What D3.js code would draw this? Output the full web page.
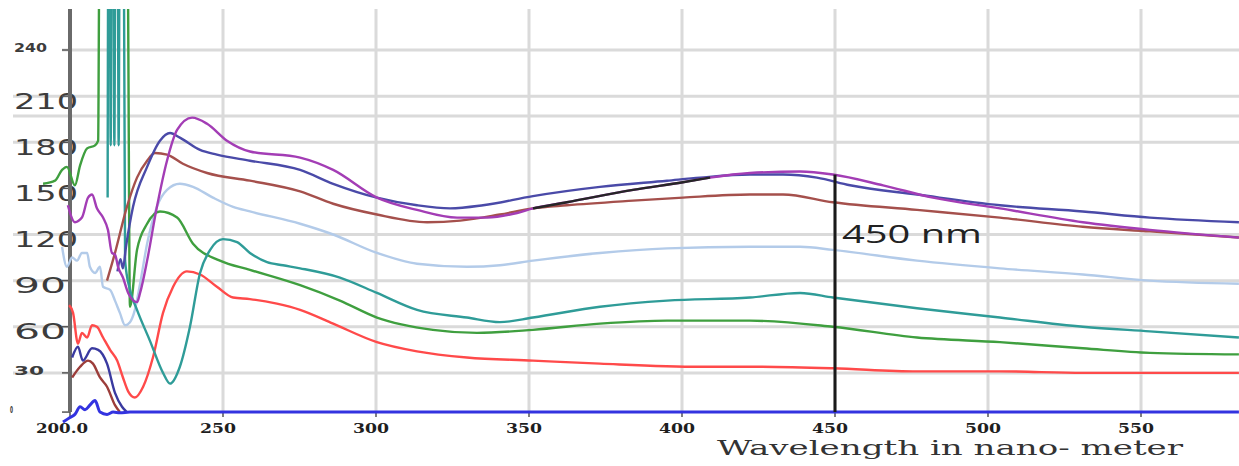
<!DOCTYPE html>
<html>
<head>
<meta charset="utf-8">
<script src="https://cdn.jsdelivr.net/npm/d3@7"></script>
<style>
body { margin: 0; background: #fff; }
</style>
</head>
<body>
<div id="chart"></div>
<script>
// axis ticks and labels
const xTicks = [200, 250, 300, 350, 400, 450, 500, 550];
const xTickLabels = ["200.0", "250", "300", "350", "400", "450", "500", "550"];
const yTicks = [30, 60, 90, 120, 150, 180, 210, 240];
const yTickLabels = ["30", "60", "90", "120", "150", "180", "210", "240"];
const yGrid = [30, 60, 90, 120, 180, 197, 210, 240];
const baseValue = 4.5;

// spectra: [wavelength nm, value]
const lightBlue = [[197.4,112],[199.0,99],[200.7,105],[202.3,103],[203.9,108],[205.6,108],[206.5,99],[208.2,95],[209.8,99],[210.8,86],[213.1,84],[214.7,77],[216.3,69],[218.0,61],[219.6,63],[221.2,71],[222.9,88],[225.2,114],[228.4,138],[231.7,149],[235.9,153],[240.2,151],[246.7,144],[253.3,138],[258.8,135],[275.2,127],[286.0,120],[300.3,108],[313.4,101],[329.7,99],[340.5,100],[351.3,103],[373.2,108],[395.1,111],[422.2,112],[438.6,112],[449.3,110],[476.8,103],[503.9,98],[531.0,94],[552.9,90],[582.0,88]];
const red = [[199.7,74],[201.0,69],[202.6,49],[203.9,56],[205.6,53],[207.2,61],[208.8,60],[210.8,53],[213.1,45],[215.4,38],[217.3,27],[219.0,18],[221.2,14],[223.9,21],[227.1,40],[230.4,69],[233.7,86],[238.2,96],[242.5,94],[248.0,86],[253.3,79],[258.8,78],[267.6,75],[275.2,71],[286.0,62],[300.3,50],[313.4,44],[329.7,40],[351.3,38],[373.2,36],[405.9,34],[422.2,34],[449.3,33],[476.8,31],[503.9,31],[531.0,30],[582.0,30]];
const green = [[191.2,153],[195.1,155],[197.4,162],[199.0,164],[201.6,152],[203.3,165],[205.6,176],[208.2,178],[209.2,181],[209.6,300],[218.8,300],[219.6,73],[221.9,110],[225.2,127],[229.4,135],[235.0,131],[240.2,114],[249.0,103],[258.8,97],[275.2,87],[288.2,77],[300.3,66],[318.6,58],[333.0,56],[351.3,58],[373.2,62],[395.1,64],[422.2,64],[449.3,60],[476.8,53],[503.9,50],[531.0,46],[552.9,43],[582.0,42]];
const teal = [[212.3,144],[212.5,300],[213.0,300],[213.3,178],[213.6,300],[214.2,300],[214.5,178],[214.8,300],[215.6,300],[215.9,178],[216.2,300],[217.6,300],[218.0,103],[219.6,84],[221.9,71],[226.1,51],[230.4,30],[232.7,23],[235.9,34],[239.2,60],[242.5,95],[245.8,110],[250.0,117],[254.6,115],[258.8,108],[264.4,102],[269.6,100],[275.2,98],[288.2,92],[300.3,82],[313.4,71],[329.7,66],[340.5,63],[351.3,66],[373.2,73],[395.1,77],[422.2,79],[438.6,82],[449.3,79],[476.8,72],[503.9,66],[531.0,60],[552.9,57],[582.0,53]];
const brown = [[212.1,90],[214.7,108],[218.6,138],[221.9,157],[225.2,168],[227.8,173],[231.7,172],[236.9,166],[244.8,160],[258.8,155],[275.2,148],[286.0,140],[300.3,133],[316.7,128],[327.5,129],[340.5,133],[351.3,137],[362.4,139],[384.0,142],[400.3,144],[422.2,146],[433.0,146],[449.3,141],[476.8,136],[503.9,131],[531.0,125],[552.9,122],[582.0,118]];
const brownLow = [[200.7,27],[203.3,34],[205.9,38],[207.5,36],[209.8,27],[212.1,21],[214.7,9],[216.3,4.5]];
const navy = [[215.5,96],[216.5,104],[217.3,98],[218.3,112],[220.6,138],[225.2,164],[229.4,181],[232.7,186],[235.9,183],[242.5,175],[248.0,172],[258.8,168],[275.2,162],[286.0,153],[300.3,144],[313.4,139],[324.2,137],[335.0,139],[351.3,145],[373.2,151],[395.1,155],[405.9,157],[422.2,159],[433.0,159],[444.1,157],[454.9,152],[476.8,146],[503.9,139],[531.0,135],[552.9,131],[582.0,128]];
const navyLow = [[200.7,40],[202.6,47],[204.2,38],[207.2,46],[209.2,45],[212.1,36],[214.7,17],[217.0,8],[218.6,4.5]];
const purple = [[199.3,139],[201.6,128],[203.9,131],[205.9,144],[207.2,146],[208.8,137],[210.8,131],[212.4,123],[213.7,108],[214.7,107],[215.7,99],[217.3,92],[219.0,82],[221.9,76],[222.9,82],[225.2,103],[228.4,138],[231.7,168],[235.0,188],[239.9,196],[244.8,192],[251.3,181],[258.8,174],[275.2,170],[286.0,162],[300.3,144],[313.4,136],[326.5,131],[336.3,131],[346.1,134],[351.3,137],[362.4,141],[384.0,149],[400.3,154],[409.2,157],[422.2,160],[438.6,161],[449.3,159],[465.7,152],[482.0,144],[503.9,137],[531.0,128],[552.9,123],[582.0,118]];
const black = [[351.3,137],[362.4,141],[384.0,149],[400.3,154],[409.2,157]];
const blue = [[197.7,-2],[200.0,1],[201.6,3],[203.3,8],[204.9,6],[206.5,9],[208.2,12],[209.8,4.5],[212.1,3],[214.1,4.5],[216.3,4],[219.6,4.5],[582.0,4.5]];

const markerNm = 450;
const markerTop = 159;
const markerLabel = "450 nm";
const xTitle = "Wavelength in nano-  meter";

const series = [
    {data: lightBlue, color: "#b3cbe9"},
    {data: red, color: "#ff4a4a"},
    {data: green, color: "#3f9f3f"},
    {data: teal, color: "#2f9c98"},
    {data: brownLow, color: "#9c3d3a"},
    {data: brown, color: "#a5504c"},
    {data: navyLow, color: "#3a3aa0"},
    {data: navy, color: "#4a4aa8"},
    {data: purple, color: "#a33db5"},
    {data: black, color: "#262626"},
    {data: blue, color: "#3333e0"}
];

const width = 1239, height = 466;

const x = d3.scaleLinear([200, 550], [70, 1141]);
const y = d3.scaleLinear([0, 240], [419, 50]);

const svg = d3.select("#chart")
    .append("svg")
    .attr("width", width)
    .attr("height", height)
    .style("display", "block");

svg.append("defs").append("clipPath")
    .attr("id", "plot")
    .append("rect")
    .attr("x", 0).attr("y", 9)
    .attr("width", width).attr("height", 425);

// grid
svg.append("g")
    .attr("stroke", "#dadada")
    .attr("stroke-width", 3)
    .call(g => g.selectAll("line.h")
        .data(yGrid)
        .join("line")
        .attr("x1", d => d === 240 ? 62 : 13)
        .attr("x2", width)
        .attr("y1", d => y(d))
        .attr("y2", d => y(d)))
    .call(g => g.selectAll("line.v")
        .data(xTicks.slice(1))
        .join("line")
        .attr("x1", d => x(d))
        .attr("x2", d => x(d))
        .attr("y1", 9)
        .attr("y2", y(baseValue)));

// y labels
svg.append("g")
    .attr("font-family", "DejaVu Sans, sans-serif")
    .attr("fill", "#3c3c3c")
    .selectAll("text")
    .data(yTicks.map((v, i) => ({v, label: yTickLabels[i]})))
    .join("text")
    .attr("x", 14)
    .attr("y", d => y(d.v) + (d.v === 240 || d.v === 30 ? -2 : 5))
    .attr("dominant-baseline", "central")
    .attr("font-size", d => d.v === 240 || d.v === 30 ? 12 : 22)
    .attr("font-weight", d => d.v === 240 || d.v === 30 ? "bold" : null)
    .attr("textLength", d => d.v === 240 ? 33 : d.v === 30 ? 30 : d.label.length === 3 ? 64 : 52)
    .attr("lengthAdjust", "spacingAndGlyphs")
    .text(d => d.label);

svg.append("text")
    .attr("x", 10)
    .attr("y", y(baseValue) - 2)
    .attr("dominant-baseline", "central")
    .attr("font-family", "DejaVu Sans, sans-serif")
    .attr("font-size", 9)
    .attr("font-weight", "bold")
    .attr("textLength", 3)
    .attr("lengthAdjust", "spacingAndGlyphs")
    .attr("fill", "#333")
    .text("0");

// y tick marks
svg.append("g")
    .attr("stroke", "#555")
    .attr("stroke-width", 1.5)
    .selectAll("line")
    .data([baseValue].concat(yTicks))
    .join("line")
    .attr("x1", 62).attr("x2", 70)
    .attr("y1", d => y(d)).attr("y2", d => y(d));

// x tick marks + labels
svg.append("g")
    .attr("stroke", "#555")
    .attr("stroke-width", 1.5)
    .selectAll("line")
    .data(xTicks)
    .join("line")
    .attr("x1", d => x(d)).attr("x2", d => x(d))
    .attr("y1", y(baseValue)).attr("y2", y(baseValue) + 5);

svg.append("g")
    .attr("font-family", "DejaVu Serif, serif")
    .attr("font-weight", "bold")
    .attr("font-size", 13)
    .attr("fill", "#1e1e1e")
    .selectAll("text")
    .data(xTicks.map((v, i) => ({v, label: xTickLabels[i]})))
    .join("text")
    .attr("x", d => x(d.v) - (d.v === 200 ? 8 : 5))
    .attr("y", 428)
    .attr("text-anchor", "middle")
    .attr("dominant-baseline", "central")
    .attr("textLength", d => d.label.length > 3 ? 52 : 36)
    .attr("lengthAdjust", "spacingAndGlyphs")
    .text(d => d.label);

// left axis
svg.append("line")
    .attr("x1", x(200)).attr("x2", x(200))
    .attr("y1", 9).attr("y2", y(baseValue))
    .attr("stroke", "#6a6a6a")
    .attr("stroke-width", 4);

// spectra
const line = d3.line()
    .x(d => x(d[0]))
    .y(d => y(d[1]))
    .curve(d3.curveMonotoneX);

svg.append("g")
    .attr("clip-path", "url(#plot)")
    .attr("fill", "none")
    .attr("stroke-linejoin", "round")
    .selectAll("path")
    .data(series)
    .join("path")
    .attr("stroke", d => d.color)
    .attr("stroke-width", d => d.data === blue ? 3 : 2.4)
    .attr("d", d => line(d.data));

// 450 nm marker
svg.append("line")
    .attr("x1", x(markerNm)).attr("x2", x(markerNm))
    .attr("y1", y(markerTop)).attr("y2", y(baseValue))
    .attr("stroke", "#1a1a1a")
    .attr("stroke-width", 3);

svg.append("text")
    .attr("x", x(markerNm) + 7)
    .attr("y", 243)
    .attr("font-family", "Open Sans, sans-serif")
    .attr("font-size", 25)
    .attr("fill", "#222")
    .attr("textLength", 140)
    .attr("lengthAdjust", "spacingAndGlyphs")
    .text(markerLabel);

// axis title
svg.append("text")
    .attr("x", 717)
    .attr("y", 455)
    .attr("font-family", "DejaVu Serif, serif")
    .attr("font-size", 20)
    .attr("fill", "#333")
    .attr("textLength", 466)
    .attr("lengthAdjust", "spacingAndGlyphs")
    .text(xTitle);
</script>
</body>
</html>
